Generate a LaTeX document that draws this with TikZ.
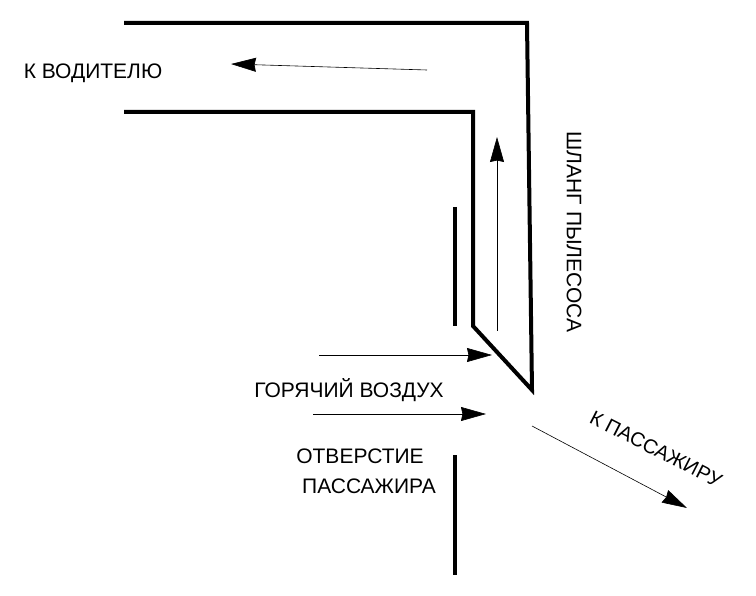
\documentclass[tikz,border=0pt]{standalone}
\usepackage{fontspec}
\setmainfont{Liberation Sans}
\usetikzlibrary{arrows.meta}
\tikzset{
  wall/.style={line width=4pt,line cap=butt,line join=miter},
  flow/.style={line width=0.6pt,-{Stealth[length=25pt,width=14pt,inset=1.5pt]}},
  lbl/.style={font=\fontsize{21pt}{24pt}\selectfont,inner sep=0pt,align=center},
  lblsmall/.style={font=\fontsize{20pt}{24pt}\selectfont,inner sep=0pt,align=center}
}
\begin{document}
\begin{tikzpicture}[x=1pt,y=-1pt]
\useasboundingbox (0,0) rectangle (756,596);
\coordinate (h1) at (124,23);\coordinate (h2) at (527,23);\coordinate (h3) at (532,390);\coordinate (h4) at (473,326);\coordinate (h5) at (473,112);\coordinate (h6) at (124,112);
\draw[wall] (h1)--(h2)--(h3)--(h4)--(h5)--(h6);
\coordinate (p1) at (455,207);\coordinate (p2) at (455,326);\coordinate (p3) at (455,455);\coordinate (p4) at (455,575);
\draw[wall] (p1)--(p2);
\draw[wall] (p3)--(p4);
\coordinate (a1) at (427,70);\coordinate (a2) at (231,64);
\coordinate (b1) at (497,331);\coordinate (b2) at (497,137);
\coordinate (c1) at (319,355);\coordinate (c2) at (492,355);
\coordinate (d1) at (313,414);\coordinate (d2) at (486,414);
\coordinate (e1) at (532,426);\coordinate (e2) at (687,508);
\draw[flow] (a1)--(a2);
\draw[flow] (b1)--(b2);
\draw[flow] (c1)--(c2);
\draw[flow] (d1)--(d2);
\draw[flow] (e1)--(e2);
\node[lbl] (t1) at (93,73) {К ВОДИТЕЛЮ};
\node[lbl,rotate=-90] (t2) at (574,232) {ШЛАНГ ПЫЛЕСОСА};
\node[lbl] (t3) at (349,390) {ГОРЯЧИЙ ВОЗДУХ};
\node[lbl] (t4) at (360,456) {ОТВЕРСТИЕ};
\node[lbl] (t5) at (369,486) {ПАССАЖИРА};
\node[lblsmall,rotate=-27] (t6) at (656,449) {К ПАССАЖИРУ};
\end{tikzpicture}
\end{document}
